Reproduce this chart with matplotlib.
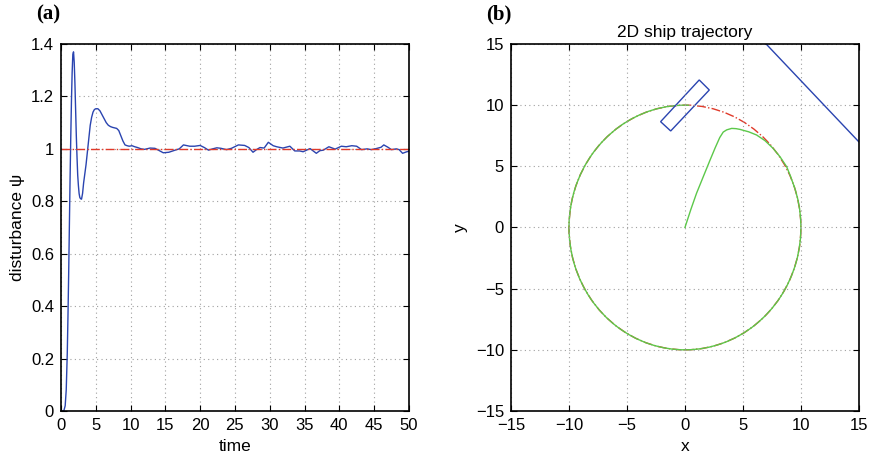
import matplotlib.pyplot as plt
from matplotlib.patches import Circle, Arc, Polygon

plt.rcParams['font.family'] = ['Liberation Sans', 'DejaVu Sans']

# (a) disturbance estimate over time
t_start = [0, 0.4, 0.6, 0.75, 0.9, 1.0, 1.1, 1.2, 1.3, 1.4, 1.5, 1.6, 1.7, 1.8, 1.9,
           2.0, 2.1, 2.2, 2.3, 2.4, 2.5, 2.6, 2.7, 2.8, 2.95, 3.1, 3.25, 3.4, 3.6,
           3.8, 4.0, 4.2, 4.4, 4.6, 4.8, 5.0, 5.3, 5.6, 5.9, 6.2, 6.5, 6.8, 7.1,
           7.4, 7.7, 8.0, 8.3, 8.6, 8.9, 9.2, 9.5, 9.8, 10.2, 10.6, 11.0]
psi_start = [0, 0, 0.02, 0.08, 0.22, 0.36, 0.52, 0.70, 0.88, 1.04, 1.18, 1.29, 1.36,
             1.37, 1.33, 1.25, 1.15, 1.05, 0.97, 0.90, 0.86, 0.83, 0.815, 0.81, 0.808,
             0.83, 0.87, 0.90, 0.94, 0.99, 1.04, 1.09, 1.12, 1.14, 1.15, 1.153, 1.153,
             1.145, 1.13, 1.115, 1.10, 1.09, 1.085, 1.082, 1.08, 1.078, 1.07, 1.05,
             1.03, 1.015, 1.012, 1.01, 1.012, 1.008, 1.005]
t_rest = [11.5, 12, 12.8, 13.5, 14, 14.7, 15.5, 16.4, 17, 17.6, 18.5, 19.2, 20, 20.6,
          21.2, 21.8, 22.4, 23, 23.8, 24.5, 25.5, 26.4, 27, 27.6, 28.1, 28.6, 29.2,
          29.8, 30.5, 31, 31.9, 32.9, 33.6, 34.3, 34.8, 35.3, 35.8, 36.7, 37.2, 37.7,
          38.5, 39.4, 40.3, 41.0, 41.8, 42.5, 43.2, 44.0, 44.6, 45.3, 46.0, 46.4,
          47.0, 47.5, 48.2, 48.6, 49.1, 49.6, 50]
psi_rest = [1.0, 0.998, 1.003, 1.002, 0.995, 0.985, 0.987, 0.995, 1.0, 1.015, 1.01,
            1.01, 1.013, 1.005, 0.995, 1.0, 1.004, 1.002, 0.997, 1.002, 1.015, 1.013,
            1.005, 0.987, 0.997, 1.005, 1.003, 1.025, 1.012, 1.008, 1.003, 1.01, 0.992,
            0.992, 0.989, 0.995, 1.001, 0.983, 0.993, 0.995, 1.008, 0.999, 1.01, 1.008,
            1.012, 1.01, 0.997, 1.0, 0.997, 1.001, 1.006, 1.015, 1.006, 0.997, 1.0,
            0.997, 0.983, 0.988, 0.991]
t = t_start + t_rest
psi = psi_start + psi_rest
psi_ref = 1.0

# (b) ship trajectory
radius = 10
traj_x = [0, 0.5, 1.0, 1.6, 2.16, 2.6, 3.0, 3.3, 3.6, 4.03, 4.4, 4.74, 5.5, 6.18,
          6.9, 7.6, 8.2, 8.77, 9.1, 9.4]
traj_y = [0, 1.45, 2.8, 4.2, 5.5, 6.5, 7.35, 7.8, 7.98, 8.1, 8.08, 8.02, 7.82, 7.56,
          7.1, 6.47, 5.78, 4.97, 4.2, 3.4]
arc_from, arc_to = 88, 20   # degrees, circular part of the green path
ship_x = [-2.1, -1.23, 2.1, 1.23]
ship_y = [8.65, 7.89, 11.24, 12.06]
wall_x = [7, 15]
wall_y = [15, 7]

blue = '#2a44b0'
green = '#5cc84a'
red = '#e03a2a'
fs = 12.5
tfs = 12

fig = plt.figure(figsize=(8.74, 4.63), dpi=100)
ax1 = fig.add_axes([0.0698, 0.1123, 0.398, 0.7927])
ax2 = fig.add_axes([0.5847, 0.1123, 0.398, 0.7927])

ax1.plot(t, psi, color=blue, lw=1.0)
ax1.axhline(psi_ref, color=red, lw=1.0, ls='-.')
ax1.set_xlim(0, 50)
ax1.set_ylim(0, 1.4)
ax1.set_xticks(range(0, 51, 5))
ax1.set_yticks([0, 0.2, 0.4, 0.6, 0.8, 1.0, 1.2, 1.4])
ax1.set_yticklabels(['0', '0.2', '0.4', '0.6', '0.8', '1', '1.2', '1.4'])
ax1.set_xlabel('time', fontsize=fs, labelpad=4)
ax1.set_ylabel('disturbance ψ', fontsize=fs, labelpad=4)

ax2.add_patch(Circle((0, 0), radius, fill=False, color=red, lw=1.0, ls='-.'))
ax2.add_patch(Arc((0, 0), 2 * radius, 2 * radius, theta1=arc_from, theta2=arc_to,
                  color=green, lw=1.0))
ax2.plot(traj_x, traj_y, color=green, lw=1.0)
ax2.add_patch(Polygon(list(zip(ship_x, ship_y)), closed=True, fill=False,
                      edgecolor=blue, lw=1.0))
ax2.plot(wall_x, wall_y, color=blue, lw=1.0)
ax2.set_xlim(-15, 15)
ax2.set_ylim(-15, 15)
ax2.set_xticks(range(-15, 16, 5))
ax2.set_yticks(range(-15, 16, 5))
ax2.set_xticklabels([str(v).replace('-', '\u2212') for v in range(-15, 16, 5)])
ax2.set_yticklabels([str(v).replace('-', '\u2212') for v in range(-15, 16, 5)])
ax2.set_xlabel('x', fontsize=fs, labelpad=4)
ax2.set_ylabel('y', fontsize=fs, labelpad=6)
ax2.set_title('2D ship trajectory', fontsize=fs, pad=5)

for ax in (ax1, ax2):
    ax.grid(True, color='#a0a0a0', lw=0.8, ls=(0, (1, 3)))
    ax.tick_params(direction='in', top=True, right=True, labelsize=tfs, length=4,
                   width=0.8, pad=5)
    for s in ax.spines.values():
        s.set_linewidth(1.2)

fig.text(0.041, 0.99, '(a)', fontsize=15, fontweight='bold', va='top',
         family=['Liberation Serif', 'DejaVu Serif'])
fig.text(0.556, 0.99, '(b)', fontsize=15, fontweight='bold', va='top',
         family=['Liberation Serif', 'DejaVu Serif'])

fig.savefig('out.png', dpi=100)
